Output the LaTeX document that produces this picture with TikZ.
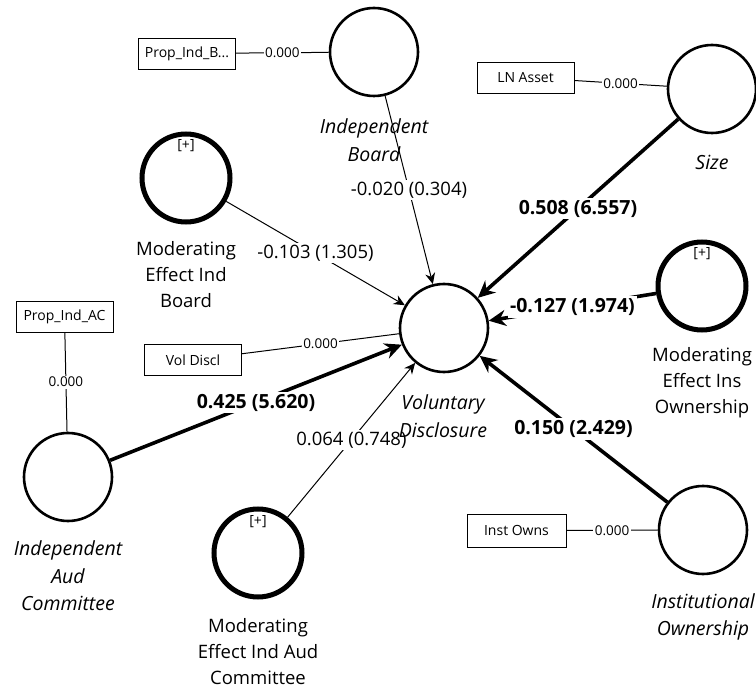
\documentclass[tikz,border=0pt]{standalone}
\usepackage{fontspec}
\setmainfont{Open Sans}
\usetikzlibrary{arrows.meta}
\begin{document}
\begin{tikzpicture}[x=1pt,y=-1pt,
  lv/.style={circle,draw,line width=2.6pt,minimum size=88pt,inner sep=0pt},
  modlv/.style={lv,line width=5pt},
  indbox/.style={draw,line width=0.9pt,minimum width=97pt,minimum height=31pt,inner sep=2pt,font={\fontsize{14}{16}\selectfont}},
  load/.style={line width=1pt},
  zero/.style={fill=white,inner sep=1.5pt,font={\fontsize{13.5}{15}\selectfont}},
  pthin/.style={line width=1pt,-{Stealth[length=11pt,width=10pt]}},
  pthick/.style={line width=3.6pt,-{Stealth[length=17pt,width=16pt]}},
  val/.style={fill=white,inner sep=2pt,font={\fontsize{18.5}{21}\selectfont}},
  valb/.style={val,font={\fontsize{19.5}{22}\selectfont\bfseries}},
  lvname/.style={align=center,font={\fontsize{19.5}{27.5}\selectfont\itshape}},
  modname/.style={align=center,font={\fontsize{18.5}{26}\selectfont}},
  plus/.style={font={\fontsize{14}{16}\selectfont},inner sep=0pt}]
\useasboundingbox (0,0) rectangle (756,690);
% latent variables
\node[lv] (ib) at (374,52) {};
\node[lv] (size) at (712,89) {};
\node[modlv] (meib) at (186,178) {};
\node[lv] (vd) at (444,328) {};
\node[modlv] (meio) at (702,286) {};
\node[lv] (iac) at (68,477) {};
\node[modlv] (meiac) at (258,553) {};
\node[lv] (io) at (703,530) {};
% plus marks
\node[plus] (p1) at ([yshift=-14pt]meib.north) {[+]};
\node[plus] (p2) at ([yshift=-14pt]meio.north) {[+]};
\node[plus] (p3) at ([yshift=-15pt]meiac.north) {[+]};
% indicators
\node[indbox] (b1) at (187,53.5) {Prop\_Ind\_B...};
\node[indbox] (b2) at (525.5,77.5) {LN Asset};
\node[indbox] (b3) at (64.5,316.5) {Prop\_Ind\_AC};
\node[indbox] (b4) at (193,360) {Vol Discl};
\node[indbox,minimum width=99pt,minimum height=33pt] (b5) at (516.5,530.5) {Inst Owns};
% loadings
\draw[load] (b1) -- node[zero] (z1) {0.000} (ib);
\draw[load] (b2) -- node[zero] (z2) {0.000} (size);
\draw[load] (b3) -- node[zero] (z3) {0.000} (iac);
\draw[load] (b4) -- node[zero] (z4) {0.000} (vd);
\draw[load] (b5) -- node[zero] (z5) {0.000} (io);
% paths
\draw[pthin] (ib) -- node[val] (v1) {-0.020 (0.304)} (vd);
\draw[pthin] (meib) -- node[val] (v2) {-0.103 (1.305)} (vd);
\draw[pthick] (size) -- node[valb] (v3) {0.508 (6.557)} (vd);
\draw[pthick] (meio) -- node[valb] (v4) {-0.127 (1.974)} (vd);
\draw[pthick] (io) -- node[valb] (v5) {0.150 (2.429)} (vd);
\draw[pthick] (iac) -- node[valb] (v6) {0.425 (5.620)} (vd);
\draw[pthin] (meiac) -- node[val] (v7) {0.064 (0.748)} (vd);
% names
\node[lvname] (nib) at (374,140) {Independent\\Board};
\node[lvname] (nsize) at (712,162) {Size};
\node[modname] (nmeib) at (186,275) {Moderating\\Effect Ind\\Board};
\node[modname] (nmeio) at (702,383) {Moderating\\Effect Ins\\Ownership};
\node[lvname] (nvd) at (443,416) {Voluntary\\Disclosure};
\node[lvname] (niac) at (68,576) {Independent\\Aud\\Committee};
\node[modname] (nmeiac) at (258,652) {Moderating\\Effect Ind Aud\\Committee};
\node[lvname] (nio) at (703,617) {Institutional\\Ownership};
\end{tikzpicture}
\end{document}
